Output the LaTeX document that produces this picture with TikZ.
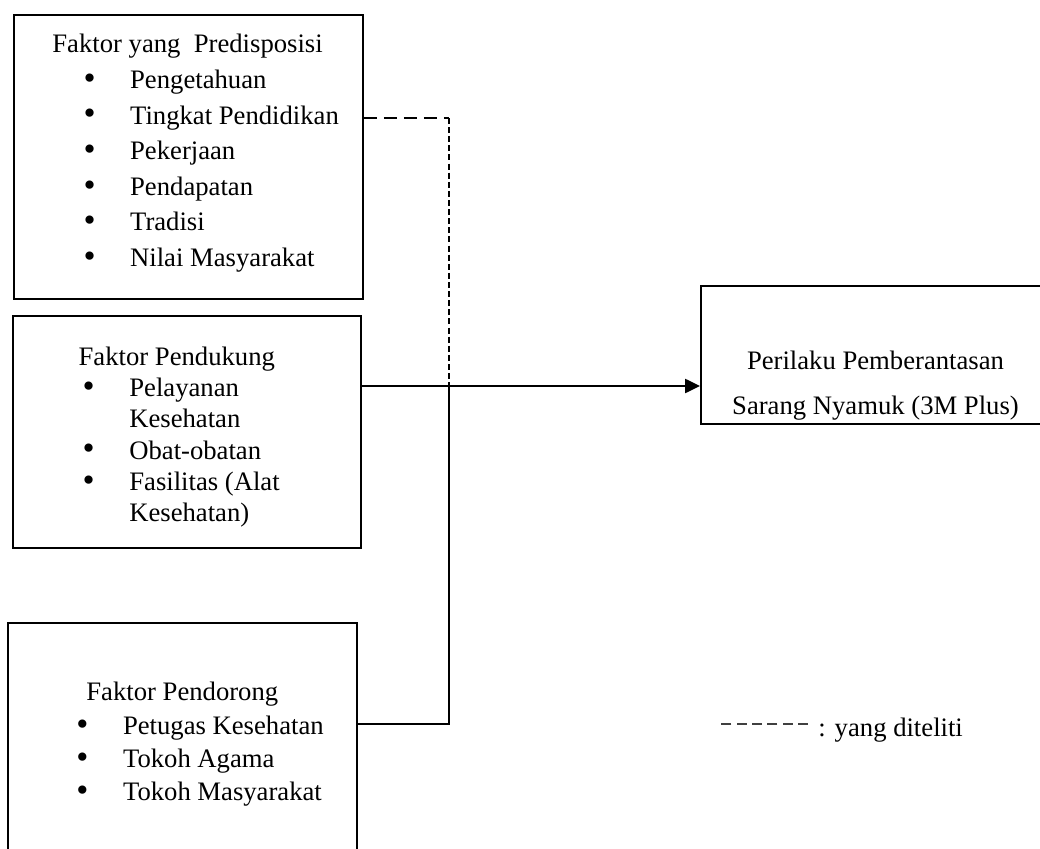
\documentclass[tikz,border=0pt]{standalone}
\usepackage{fontspec}
\setmainfont{Liberation Serif}
\usetikzlibrary{arrows.meta,positioning}
\newcommand{\butir}[2]{\hspace*{#1}\makebox[21pt][l]{\raisebox{-0.4pt}{\fontsize{15.5}{15.5}\selectfont\textbullet}}#2}

\begin{document}
\begin{tikzpicture}[
  x=0.45pt,y=-0.45pt,
  kotak/.style={draw,line width=0.9pt,minimum width=157pt,inner sep=0pt},
  isi/.style={align=left,inner sep=0pt,font=\fontsize{12}{16}\selectfont},
  garis/.style={line width=0.9pt},
  panah/.style={-{Triangle[length=6.7pt,width=6.3pt]},line width=0.9pt},
  putus/.style={line width=1pt,dash pattern=on 5.8pt off 3.2pt},
  putustipis/.style={line width=0.5pt,dash pattern=on 2.7pt off 1.4pt},
  putusket/.style={draw=black!75,line width=1pt,dash pattern=on 4.5pt off 2.4pt}
]
\useasboundingbox (0,0) rectangle (1040,849);

% kotak faktor
\node[kotak,minimum height=127.8pt] (b1) at (188.5,157) {};
\node[kotak,minimum height=104.4pt] (b2) at (187,432) {};
\node[kotak,minimum height=111.2pt] (b3) at (182.5,746.5) {};
\node[kotak,minimum height=62.1pt] (rb) at (875.5,355) {};

\node[isi,below right=9pt and 17.5pt of b1.north west] (t1) {Faktor yang~~Predisposisi\\
  \butir{14pt}{Pengetahuan}\\
  \butir{14pt}{Tingkat Pendidikan}\\
  \butir{14pt}{Pekerjaan}\\
  \butir{14pt}{Pendapatan}\\
  \butir{14pt}{Tradisi}\\
  \butir{14pt}{Nilai Masyarakat}};
\node[isi,font=\fontsize{12}{14.1}\selectfont,below right=14pt and 30pt of b2.north west] (t2) {Faktor Pendukung\\
  \butir{1.8pt}{Pelayanan}\\
  \hspace*{22.8pt}Kesehatan\\
  \butir{1.8pt}{Obat-obatan}\\
  \butir{1.8pt}{Fasilitas (Alat}\\
  \hspace*{22.8pt}Kesehatan)};
\node[isi,font=\fontsize{12}{15}\selectfont,below right=27pt and 31pt of b3.north west] (t3) {\hspace*{4.5pt}Faktor Pendorong\\
  \butir{0pt}{Petugas Kesehatan}\\
  \butir{0pt}{Tokoh Agama}\\
  \butir{0pt}{Tokoh Masyarakat}};
\node[isi,align=center,font=\fontsize{12}{20.25}\selectfont,below=29.7pt of rb.north] (t4) {Perilaku Pemberantasan\\Sarang Nyamuk (3M Plus)};

% garis penghubung
\coordinate (d) at (449,118);
\coordinate (j) at (449,386);
\coordinate (k) at (449,724);
\draw[putus] (b1.east |- d) -- (d);
\draw[putustipis] (d) -- (j);
\draw[panah] (b2.east |- j) -- (rb.west |- j);
\draw[garis] (b3.east |- k) -- (k) -- (j);

% keterangan
\node[isi,anchor=west] (ket) at (818,730) {: yang diteliti};
\draw[putusket] ([shift={(-4.5pt,2.7pt)}]ket.west) -- ++(-88,0);
\end{tikzpicture}
\end{document}
